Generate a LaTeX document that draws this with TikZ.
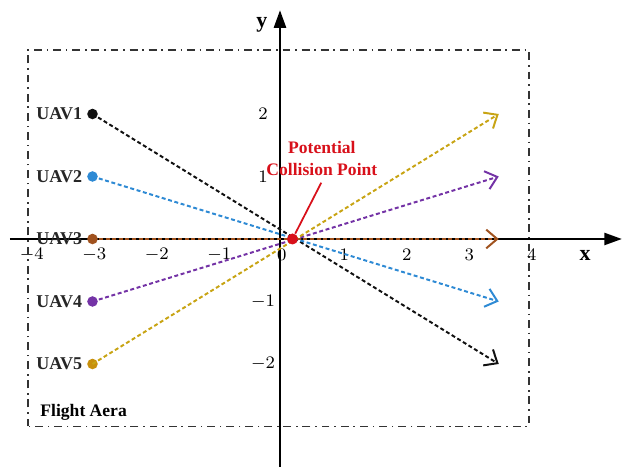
\documentclass[tikz,border=0pt]{standalone}
\usepackage{fontspec}
\setmainfont{Liberation Serif}
\usetikzlibrary{arrows.meta}
\definecolor{uavblack}{HTML}{111111}
\definecolor{uavblue}{HTML}{2E8AD4}
\definecolor{uavbrown}{HTML}{A0521E}
\definecolor{uavpurple}{HTML}{7433A6}
\definecolor{uavgold}{HTML}{C8A414}
\definecolor{uavgolddot}{HTML}{C8900C}
\definecolor{cred}{HTML}{D8101A}
\tikzset{
  axis/.style={line width=1pt, -{Triangle[length=8pt,width=5.5pt]}},
  area/.style={line width=0.8pt, black!80, dash pattern=on 3.6pt off 2.2pt on 0.7pt off 2.2pt},
  path/.style={line width=0.9pt, dash pattern=on 1.8pt off 1.2pt, -{Straight Barb[length=5pt,width=8.5pt,line width=0.9pt]}},
  uavdot/.style={circle, fill, inner sep=0pt, minimum size=4.8pt},
  uavlbl/.style={anchor=east, inner sep=0pt, font=\fontsize{8.2}{9}\selectfont\bfseries, text=black!85},
  tick/.style={inner sep=0pt, font=\fontsize{8.5}{9}\selectfont},
}
\begin{document}
\begin{tikzpicture}
\useasboundingbox (-4.48,-3.648) rectangle (5.504,3.824);
% flight area
\draw[area] (-4.03,-3.0) rectangle (3.98,3.02);
% axes
\coordinate (xs) at (-4.32,0);
\coordinate (xe) at (5.47,0);
\coordinate (ys) at (0,-3.65);
\coordinate (ye) at (0,3.66);
\draw[axis] (xs) -- (xe);
\draw[axis] (ys) -- (ye);
\node[inner sep=0pt, font=\fontsize{10}{11}\selectfont\bfseries] (ylab) at (-0.29,3.42) {y};
\node[inner sep=0pt, font=\fontsize{10}{11}\selectfont\bfseries] (xlab) at (4.88,-0.26) {x};
% tick labels
\foreach \i in {-4,-3,-2,-1,0,1,2,3,4} {
  \node[tick] (xt\i) at (\i+0.03,-0.25) {$\i$};
}
\foreach \j in {-2,-1,1,2} {
  \node[tick] (yt\j) at (-0.27,\j) {$\j$};
}
% UAV paths
\foreach \k/\c/\d [count=\n] in {2/uavblack/uavblack,1/uavblue/uavblue,0/uavbrown/uavbrown,-1/uavpurple/uavpurple,-2/uavgold/uavgolddot} {
  \node[uavdot, fill=\d] (u\n) at (-3,\k) {};
  \coordinate (e\n) at (3.5,-\k);
  \draw[path, draw=\c] (u\n.center) -- (e\n);
  \node[uavlbl] (l\n) at (-3.16,\k) {UAV\n};
}
% collision point
\node[circle, fill=cred, inner sep=0pt, minimum size=5pt] (cp) at (0.2,0) {};
\node[align=center, inner sep=0pt, text=cred, font=\fontsize{8}{10}\selectfont\bfseries] (cpl) at (0.67,1.29) {Potential\\Collision Point};
\coordinate (cpt) at (0.66,0.9);
\draw[cred, line width=0.8pt] (cpt) -- (cp);
% area label
\node[anchor=west, inner sep=0pt, font=\fontsize{8}{9}\selectfont\bfseries] (fa) at (-3.84,-2.77) {Flight Aera};
\end{tikzpicture}
\end{document}
